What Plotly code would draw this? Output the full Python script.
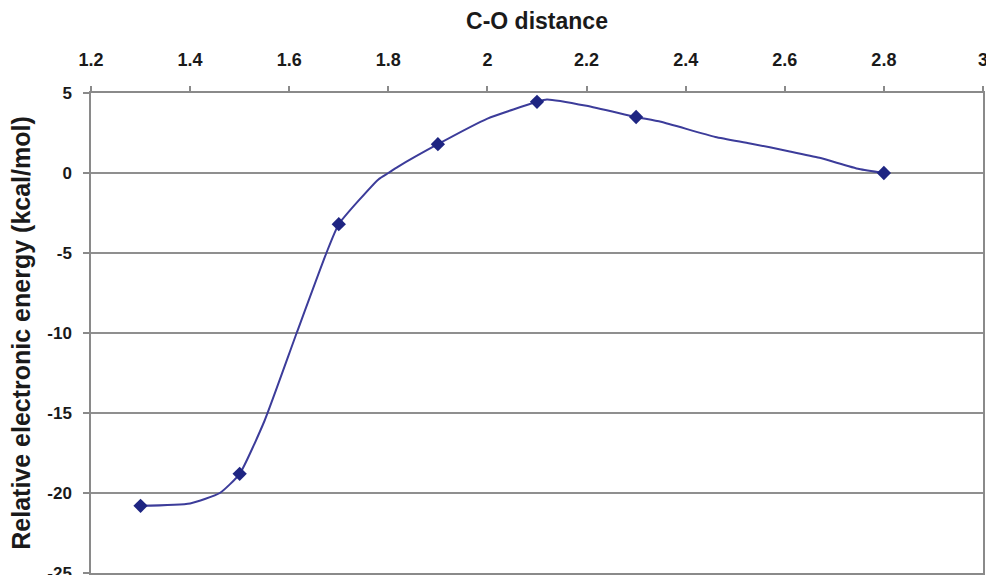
import plotly.graph_objects as go

# Scan points along the C-O coordinate (drawn as the connecting curve)
curve_x = [1.30, 1.40, 1.46, 1.50, 1.55, 1.615, 1.675, 1.70, 1.78, 1.80, 1.82,
           1.90, 2.00, 2.10, 2.12, 2.20, 2.30, 2.35, 2.46, 2.53, 2.61, 2.67,
           2.75, 2.80]
curve_y = [-20.8, -20.65, -20.0, -18.8, -15.5, -10.0, -5.0, -3.2, -0.4, 0.0, 0.4,
           1.8, 3.4, 4.45, 4.6, 4.2, 3.5, 3.2, 2.25, 1.85, 1.35, 0.95,
           0.25, 0.0]

# Optimised geometries (marked points)
point_x = [1.3, 1.5, 1.7, 1.9, 2.1, 2.3, 2.8]
point_y = [-20.8, -18.8, -3.2, 1.8, 4.45, 3.5, 0.0]

x_ticks = [1.2, 1.4, 1.6, 1.8, 2.0, 2.2, 2.4, 2.6, 2.8, 3.0]
x_tick_labels = ["1.2", "1.4", "1.6", "1.8", "2", "2.2", "2.4", "2.6", "2.8", "3"]
y_ticks = [5, 0, -5, -10, -15, -20, -25]
y_tick_labels = ["5", "0", "-5", "-10", "-15", "-20", "-25"]

FONT = "Arial, Liberation Sans, sans-serif"
TEXT = "#1a1a1a"
AXIS = "#8a8a8a"

fig = go.Figure()
fig.add_trace(go.Scatter(
    x=curve_x, y=curve_y, mode="lines",
    line=dict(color="#3c3c9a", width=2, shape="spline", smoothing=0.5),
    hoverinfo="skip", showlegend=False,
))
fig.add_trace(go.Scatter(
    x=point_x, y=point_y, mode="markers",
    marker=dict(symbol="diamond", size=11, color="#1e2582"),
    showlegend=False,
))

fig.update_layout(
    width=986, height=575,
    margin=dict(l=91, r=3, t=93, b=2),
    paper_bgcolor="white", plot_bgcolor="white",
    font=dict(family=FONT, color=TEXT),
    xaxis=dict(
        side="top", range=[1.2, 3.0], automargin=False,
        tickvals=x_ticks, ticktext=x_tick_labels,
        tickfont=dict(size=18, family=FONT, color=TEXT, weight="bold"),
        ticks="outside", ticklen=5, tickcolor=AXIS, tickwidth=1.5,
        ticklabelstandoff=13, ticklabeloverflow="allow",
        showline=True, linecolor=AXIS, linewidth=1.5, mirror=True,
        showgrid=False, zeroline=False,
        title=dict(text="C-O distance",
                   font=dict(size=23, family=FONT, color=TEXT, weight="bold"),
                   standoff=14),
    ),
    yaxis=dict(
        range=[-25, 5], automargin=False,
        tickvals=y_ticks, ticktext=y_tick_labels,
        tickfont=dict(size=17, family=FONT, color=TEXT, weight="bold"),
        ticks="outside", ticklen=6, tickcolor=AXIS, tickwidth=1.5,
        ticklabelstandoff=8, ticklabeloverflow="allow",
        showline=True, linecolor=AXIS, linewidth=1.5, mirror=True,
        showgrid=True, gridcolor="#8f8f8f", gridwidth=1.5,
        zeroline=False,
        title=dict(text="Relative electronic energy (kcal/mol)",
                   font=dict(size=25, family=FONT, color=TEXT, weight="bold"),
                   standoff=10),
    ),
)

fig.write_html("out.html")
